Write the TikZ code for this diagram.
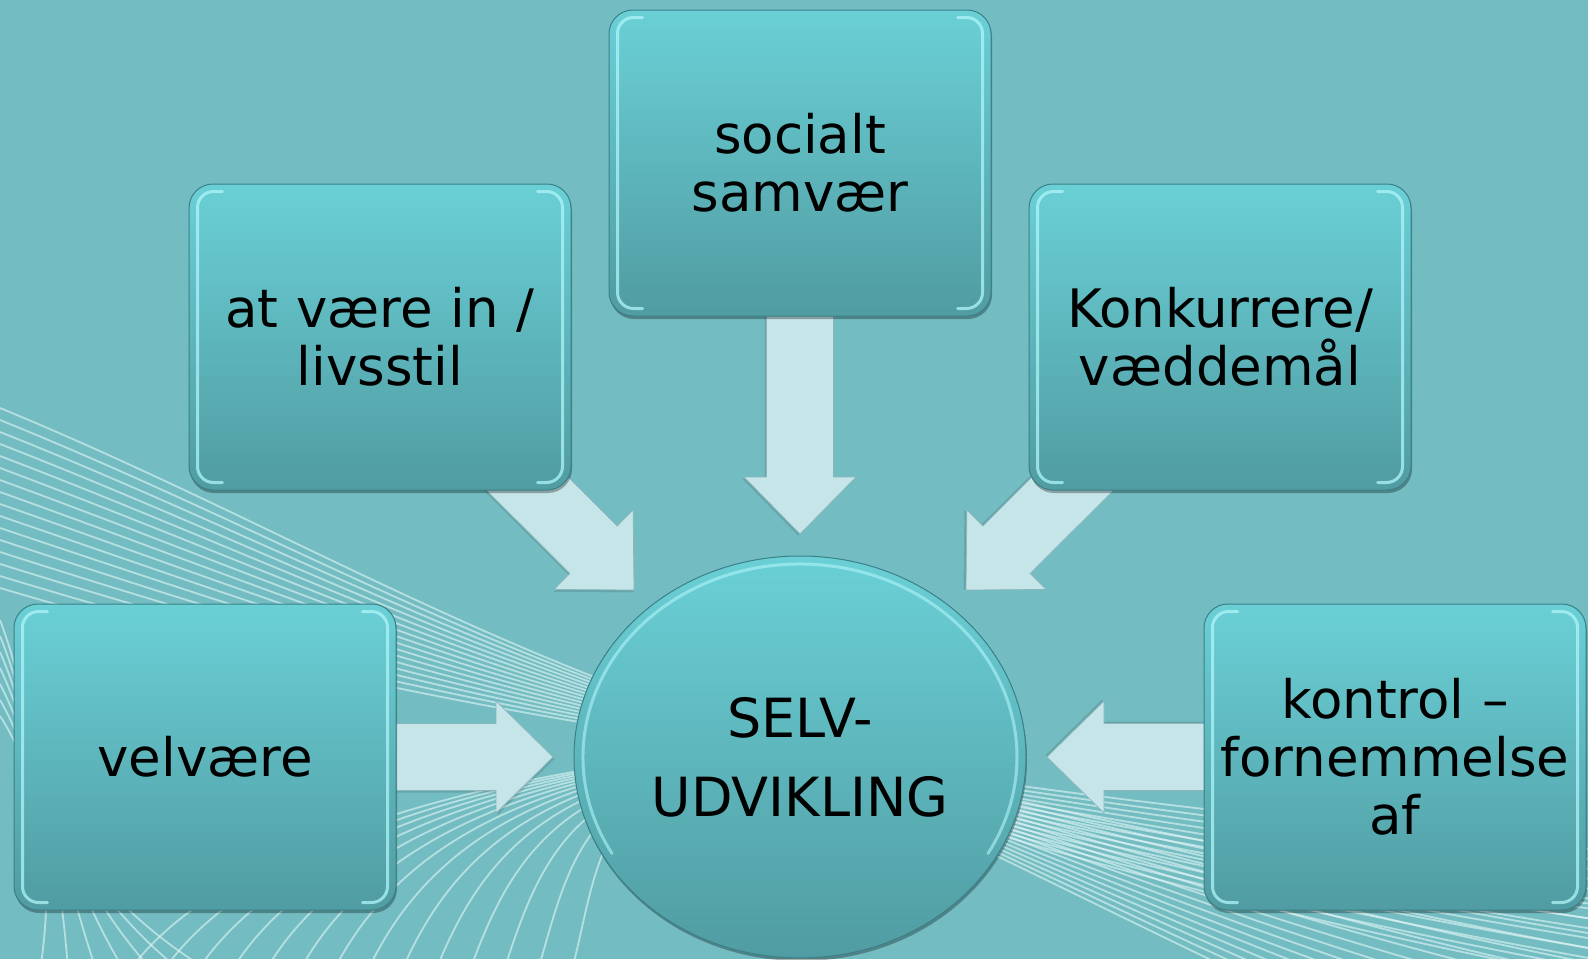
\documentclass[tikz,border=0pt]{standalone}
\usepackage{fontspec}
\setmainfont{DejaVu Sans}
\usetikzlibrary{shapes.geometric,calc,shadows}
\pgfdeclarelayer{back}
\pgfsetlayers{back,main}
\definecolor{bgc}{RGB}{115,189,194}
\definecolor{boxtop}{RGB}{106,208,214}
\definecolor{boxbot}{RGB}{80,156,162}
\definecolor{boxedge}{RGB}{58,128,134}
\definecolor{hilite}{RGB}{175,245,249}
\definecolor{arrowfill}{RGB}{198,229,233}
\definecolor{arrowedge}{RGB}{140,182,187}
\definecolor{linec}{RGB}{228,246,247}
\tikzset{
  box/.style={rectangle, rounded corners=24pt, minimum width=382pt, minimum height=306pt,
    text width=372pt, align=center, inner sep=0pt, top color=boxtop, bottom color=boxbot,
    draw=boxedge, line width=1pt, font=\fontsize{53}{58}\selectfont,
    drop shadow={shadow xshift=1pt, shadow yshift=-3pt, opacity=0.3, fill=black}},
  hub/.style={ellipse, minimum width=452pt, minimum height=402pt, inner sep=0pt,
    align=center, top color=boxtop, bottom color=boxbot, draw=boxedge, line width=1pt,
    font=\fontsize{54}{79}\selectfont,
    drop shadow={shadow xshift=1pt, shadow yshift=-3pt, opacity=0.3, fill=black}},
  glow/.style={draw=hilite, line width=3pt, opacity=0.75, rounded corners=16pt, line cap=round},
  hubglow/.style={draw=hilite, line width=3pt, opacity=0.6, line cap=round},
  fat/.style={fill=arrowfill, draw=arrowedge, line width=0.7pt},
  fatshadow/.style={fill=black, opacity=0.12},
  bgl/.style={draw=linec, line width=1.8pt, opacity=0.6},
}
\newcommand\fatarrow[2]{%
  \path (#1) coordinate (fa1) (#2) coordinate (fa2);
  \pgfpointdiff{\pgfpointanchor{fa1}{center}}{\pgfpointanchor{fa2}{center}}%
  \pgfgetlastxy{\fadx}{\fady}%
  \pgfmathsetmacro\faang{atan2(\fady,\fadx)}%
  \pgfmathsetmacro\falen{veclen(\fadx,\fady)}%
  \begin{scope}[shift={(fa1)}, rotate=\faang]
    \fill[fatshadow, xshift=1.5pt, yshift=-2pt] (0,-33.5) -- ({\falen-57},-33.5) -- ({\falen-57},-56) -- (\falen,0) -- ({\falen-57},56) -- ({\falen-57},33.5) -- (0,33.5) -- cycle;
    \filldraw[fat] (0,-33.5) -- ({\falen-57},-33.5) -- ({\falen-57},-56) -- (\falen,0) -- ({\falen-57},56) -- ({\falen-57},33.5) -- (0,33.5) -- cycle;
  \end{scope}}
\begin{document}
\begin{tikzpicture}[x=1pt,y=-1pt]
\useasboundingbox (0,0) rectangle (1588,959);
% nodes
\node[box] (soc) at (800,163) {socialt\\samvær};
\node[box] (atv) at (380,337) {at være in /\\livsstil};
\node[box] (kon) at (1220,337) {Konkurrere/\\væddemål};
\node[box] (vel) at (205,757) {velvære};
\node[box] (ktr) at (1395,757) {kontrol –\\fornemmelse\\af};
\node[hub] (hub) at (800,757) {SELV-\\UDVIKLING};
% highlights on the inner sides
\foreach \n in {soc,atv,kon,vel,ktr}{
  \draw[glow] ($(\n.north west)+(34,8)$) -- ($(\n.north west)+(9,8)$) -- ($(\n.south west)+(9,-8)$) -- ($(\n.south west)+(34,-8)$);
  \draw[glow] ($(\n.north east)+(-34,8)$) -- ($(\n.north east)+(-9,8)$) -- ($(\n.south east)+(-9,-8)$) -- ($(\n.south east)+(-34,-8)$);
}
\draw[hubglow] ($(hub.center)+(150:217 and 193)$) arc[start angle=150, end angle=390, x radius=217, y radius=193];
% tips
\coordinate (tS) at (800,534);
\coordinate (tNW) at (634,590);
\coordinate (tNE) at (966,590);
\coordinate (tW) at (553,757);
\coordinate (tE) at (1047,757);
\begin{pgfonlayer}{back}
  \fill[bgc] (0,0) rectangle (1588,959);
  \begin{scope}
    \clip (0,0) rectangle (1588,959);
    \foreach \i in {0,...,15}{
      \draw[bgl] (0,{408+12*\i}) .. controls (260,{515+10*\i}) and (480,{650+4*\i}) .. (760,{735+1*\i})
        .. controls (1000,{800+3*\i}) and (1250,{860+9*\i}) .. (1600,{905+15*\i});
    }
    \foreach \i in {0,...,13}{
      \draw[bgl] ({130+34*\i},970) .. controls ({210+30*\i},860) and ({440+12*\i},775) .. (760,{748+1*\i})
        .. controls (1000,{785+4*\i}) and (1220,{815+7*\i}) .. (1600,{850+10*\i});
    }
    \foreach \i in {0,...,6}{
      \draw[bgl] (0,{620+16*\i}) .. controls (30,{700+10*\i}) and (60,{850+5*\i}) .. ({40+28*\i},970);
    }
  \end{scope}
  \fatarrow{soc.center}{tS}
  \fatarrow{atv.center}{tNW}
  \fatarrow{kon.center}{tNE}
  \fatarrow{vel.center}{tW}
  \fatarrow{ktr.center}{tE}
\end{pgfonlayer}
\end{tikzpicture}
\end{document}
